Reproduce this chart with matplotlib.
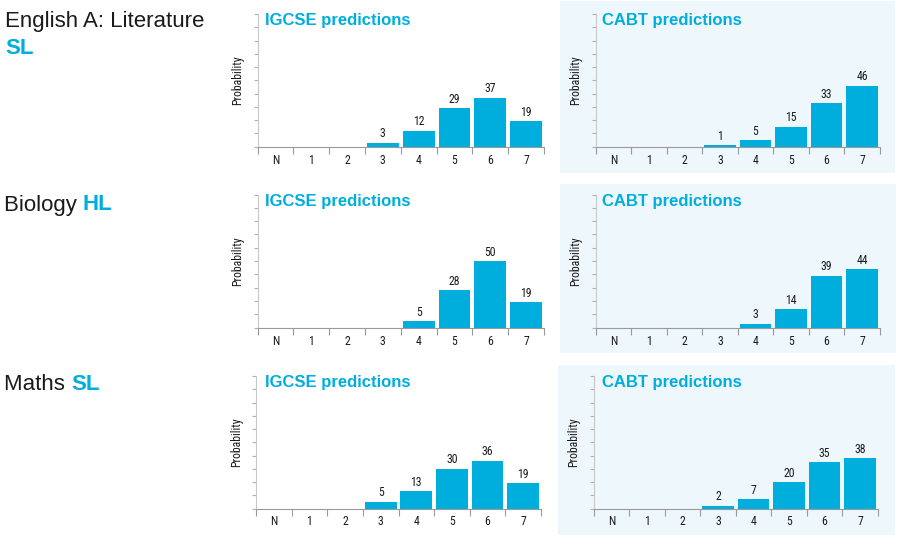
import matplotlib.pyplot as plt
from matplotlib.patches import Rectangle

# data
categories = ['N', '1', '2', '3', '4', '5', '6', '7']
subjects = ['English A: Literature', 'Biology', 'Maths']
levels = ['SL', 'HL', 'SL']
igcse = [
    [0, 0, 0, 3, 12, 29, 37, 19],
    [0, 0, 0, 0, 5, 28, 50, 19],
    [0, 0, 0, 5, 13, 30, 36, 19],
]
cabt = [
    [0, 0, 0, 1, 5, 15, 33, 46],
    [0, 0, 0, 0, 3, 14, 39, 44],
    [0, 0, 0, 2, 7, 20, 35, 38],
]

W, H = 900, 544
BLUE = '#00aede'
GREY = '#9a9a9a'
NARROW = ['Roboto Condensed', 'DejaVu Sans']
SANS = ['Liberation Sans', 'DejaVu Sans']

fig = plt.figure(figsize=(W / 100, H / 100), dpi=100)
fig.patch.set_facecolor('white')


def box(x0, y0, x1, y1):
    # pixel box (top-left origin) -> figure fraction rect
    return [x0 / W, 1 - y1 / H, (x1 - x0) / W, (y1 - y0) / H]


def fx(x):
    return x / W


def fy(y):
    return 1 - y / H


def draw_panel(ax, values, title, tx, ty):
    xs = range(len(categories))
    bars = ax.bar(xs, values, width=0.89, color=BLUE, edgecolor='none', zorder=2)
    for b, v in zip(bars, values):
        if v > 0:
            ax.text(b.get_x() + b.get_width() / 2, v + 1.8, str(v), ha='center', va='bottom',
                    fontsize=8.5, family=NARROW, color='#1a1a1a')
    ax.set_xlim(-0.5, len(categories) - 0.5)
    ax.set_ylim(0, 100)
    ax.set_facecolor('none')
    for s in ['top', 'right']:
        ax.spines[s].set_visible(False)
    ax.spines['left'].set_color('#c8c8c8')
    ax.spines['bottom'].set_color(GREY)
    ax.spines['left'].set_linewidth(0.8)
    ax.spines['bottom'].set_linewidth(0.8)
    ax.set_yticks(range(0, 101, 10))
    ax.set_yticklabels([])
    ax.tick_params(axis='y', length=3, color='#b0b0b0', width=0.8)
    ax.set_xticks(list(xs))
    ax.set_xticklabels(categories, family=NARROW, fontsize=8.5, color='#1a1a1a')
    ax.tick_params(axis='x', which='major', length=0, pad=5)
    ax.set_xticks([i - 0.5 for i in range(len(categories) + 1)], minor=True)
    ax.tick_params(axis='x', which='minor', length=5, color=GREY, width=0.8)
    ax.set_ylabel('Probability', family=NARROW, fontsize=8.5, labelpad=3, color='#1a1a1a')
    fig.text(fx(tx), fy(ty), title, color=BLUE, fontsize=12, fontweight='bold',
             family=SANS, va='center', ha='left')


tops = [14, 194.5, 376]
bottoms = [146.7, 327.7, 508.5]
igcse_x = [(257.5, 544), (257.5, 544), (256, 541)]
cabt_x = [(595.5, 880), (595.5, 880), (593.5, 878)]
bg_boxes = [(560, 1, 895, 173), (560, 184, 896, 353), (558, 365, 895, 535)]
title_y = [20, 201.5, 383]
name_y = [22, 205, 384]

for i in range(3):
    x0, y0, x1, y1 = bg_boxes[i]
    fig.add_artist(Rectangle((fx(x0), fy(y1)), (x1 - x0) / W, (y1 - y0) / H,
                             transform=fig.transFigure, facecolor='#eef7fc',
                             edgecolor='none', zorder=0))

    ax1 = fig.add_axes(box(igcse_x[i][0], tops[i], igcse_x[i][1], bottoms[i]))
    draw_panel(ax1, igcse[i], 'IGCSE predictions', 265, title_y[i])

    ax2 = fig.add_axes(box(cabt_x[i][0], tops[i], cabt_x[i][1], bottoms[i]))
    draw_panel(ax2, cabt[i], 'CABT predictions', 601.5, title_y[i])

# subject names on the left
NAME_SIZE = 16
fig.text(fx(5), fy(name_y[0]), subjects[0], fontsize=NAME_SIZE,
         family=SANS, color='#1a1a1a', va='center')
fig.text(fx(5), fy(49), levels[0], fontsize=NAME_SIZE, fontweight='bold',
         family=SANS, color=BLUE, va='center')
for i in [1, 2]:
    t = fig.text(fx(4), fy(name_y[i]), subjects[i] + ' ', fontsize=NAME_SIZE,
                 family=SANS, color='#1a1a1a', va='center')
    fig.canvas.draw()
    bb = t.get_window_extent()
    fig.text(bb.x1 / W, fy(name_y[i]), levels[i], fontsize=NAME_SIZE, fontweight='bold',
             family=SANS, color=BLUE, va='center')

fig.savefig('out.png', dpi=100, facecolor='white')
